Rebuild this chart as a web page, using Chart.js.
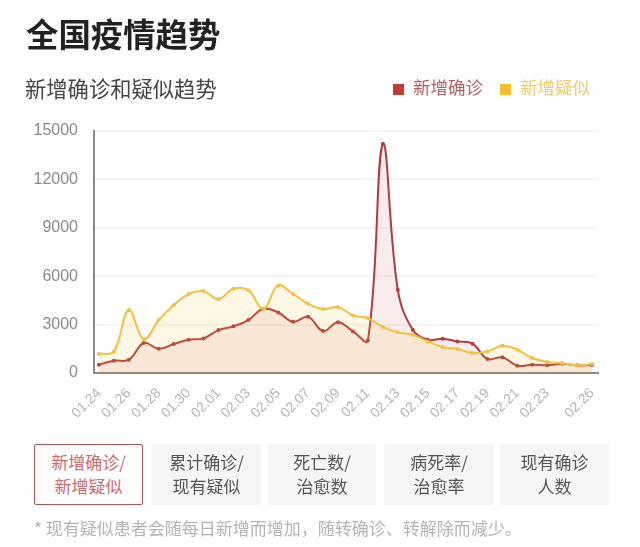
<!DOCTYPE html>
<html lang="zh">
<head>
<meta charset="utf-8">
<title>全国疫情趋势</title>
<script src="https://cdn.jsdelivr.net/npm/chart.js@4"></script>
<style>
    html, body { margin: 0; padding: 0; background: #fff; }
    body { position: relative; width: 640px; height: 547px; overflow: hidden; font-family: "Noto Sans CJK SC", sans-serif; }
    canvas { position: absolute; left: 0; top: 0; }
    .text { position: absolute; white-space: nowrap; line-height: 1; }
    #title { left: 26px; top: 17px; font-size: 32.4px; font-weight: 700; color: #222; }
    #subtitle { left: 25px; top: 77px; font-size: 21.3px; color: #444; }
    .swatch { position: absolute; top: 84px; width: 11px; height: 11px; }
    .legend { top: 78px; font-size: 17.5px; }
    .tab { position: absolute; top: 444px; height: 61px; box-sizing: border-box; background: #f4f5f5; color: #555;
           font-size: 17px; line-height: 24px; text-align: center; padding-top: 6px; border-radius: 2px; }
    .tab.active { background: #fff; border: 1px solid #c0504d; color: #d0686c; padding-top: 5px; }
    #note { left: 34px; top: 519px; font-size: 17px; color: #b4b4b4; }
</style>
</head>
<body>
<canvas id="trend-chart" width="640" height="547"></canvas>
<div class="text" id="title">全国疫情趋势</div>
<div class="text" id="subtitle">新增确诊和疑似趋势</div>
<div class="swatch" style="left:393px;background:#c23b35"></div>
<div class="text legend" style="left:413px;color:#b5605f">新增确诊</div>
<div class="swatch" style="left:500px;background:#f7bf2d"></div>
<div class="text legend" style="left:520px;color:#eecb70">新增疑似</div>
<div class="tab active" style="left:34px;width:109px">新增确诊/<br>新增疑似</div>
<div class="tab" style="left:152px;width:109px">累计确诊/<br>现有疑似</div>
<div class="tab" style="left:268px;width:108px">死亡数/<br>治愈数</div>
<div class="tab" style="left:384px;width:110px">病死率/<br>治愈率</div>
<div class="tab" style="left:500px;width:109px">现有确诊<br>人数</div>
<div class="text" id="note">* 现有疑似患者会随每日新增而增加，随转确诊、转解除而减少。</div>
<script>
const dates = ['01.24', '01.25', '01.26', '01.27', '01.28', '01.29', '01.30', '01.31',
    '02.01', '02.02', '02.03', '02.04', '02.05', '02.06', '02.07', '02.08', '02.09', '02.10',
    '02.11', '02.12', '02.13', '02.14', '02.15', '02.16', '02.17', '02.18', '02.19', '02.20',
    '02.21', '02.22', '02.23', '02.24', '02.25', '02.26'];
const shownDates = ['01.24', '01.26', '01.28', '01.30', '02.01', '02.03', '02.05', '02.07', '02.09',
    '02.11', '02.13', '02.15', '02.17', '02.19', '02.21', '02.23', '02.26'];
const confirmed = [515, 763, 825, 1857, 1506, 1795, 2063, 2146, 2660, 2890, 3280, 3980, 3750, 3170, 3480,
    2600, 3150, 2580, 2020, 14190, 5160, 2680, 2060, 2120, 1960, 1815, 870, 970, 454, 515, 475, 578, 475, 495];
const suspected = [1175, 1340, 3900, 2100, 3280, 4200, 4890, 5075, 4580, 5220, 5135, 3980, 5425, 4890, 4290,
    3960, 4085, 3570, 3400, 2850, 2520, 2370, 1960, 1610, 1485, 1240, 1340, 1690, 1440, 930, 680, 600, 475, 555];
const yTicks = [0, 3000, 6000, 9000, 12000, 15000];

const toPoints = values => values.map((y, x) => ({ x, y }));

const makeSeries = (label, values, color, fill, order) => ({
    label,
    data: toPoints(values),
    borderColor: color,
    backgroundColor: color,
    borderWidth: 2,
    pointRadius: 2,
    pointBorderWidth: 0,
    tension: 0.4,
    fill: { target: 'origin', above: fill },
    order
});

new Chart(document.getElementById('trend-chart').getContext('2d'), {
    type: 'line',
    data: {
        datasets: [
            makeSeries('新增疑似', suspected, '#efc244', 'rgba(245, 190, 60, 0.13)', 1),
            makeSeries('新增确诊', confirmed, '#b23c3c', 'rgba(194, 80, 60, 0.1)', 2)
        ]
    },
    options: {
        responsive: false,
        animation: false,
        devicePixelRatio: 1,
        layout: { padding: { left: 0, top: 131, right: 42, bottom: 114 } },
        plugins: { legend: { display: false }, title: { display: false }, tooltip: { enabled: false } },
        scales: {
            x: {
                type: 'linear',
                min: -0.33,
                max: 33.4,
                afterFit: scale => { scale.height = 60; },
                afterBuildTicks: scale => {
                    scale.ticks = shownDates.map(d => ({ value: dates.indexOf(d) }));
                },
                grid: { display: false },
                border: { color: '#8a8a8a', width: 2 },
                ticks: {
                    autoSkip: false,
                    minRotation: 45,
                    maxRotation: 45,
                    padding: 4,
                    color: '#b4b4b4',
                    font: { family: '"Liberation Sans"', size: 14 },
                    callback: value => dates[value]
                }
            },
            y: {
                min: 0,
                max: 15000,
                afterFit: scale => { scale.width = 94; },
                afterBuildTicks: scale => {
                    scale.ticks = yTicks.map(value => ({ value }));
                },
                grid: { color: '#f4f4f4', lineWidth: 2, drawTicks: false },
                border: { color: '#8a8a8a', width: 2 },
                ticks: {
                    padding: 16,
                    color: '#8a8a8a',
                    font: { family: '"Liberation Sans"', size: 16 },
                    callback: value => String(value)
                }
            }
        }
    }
});
</script>
</body>
</html>
